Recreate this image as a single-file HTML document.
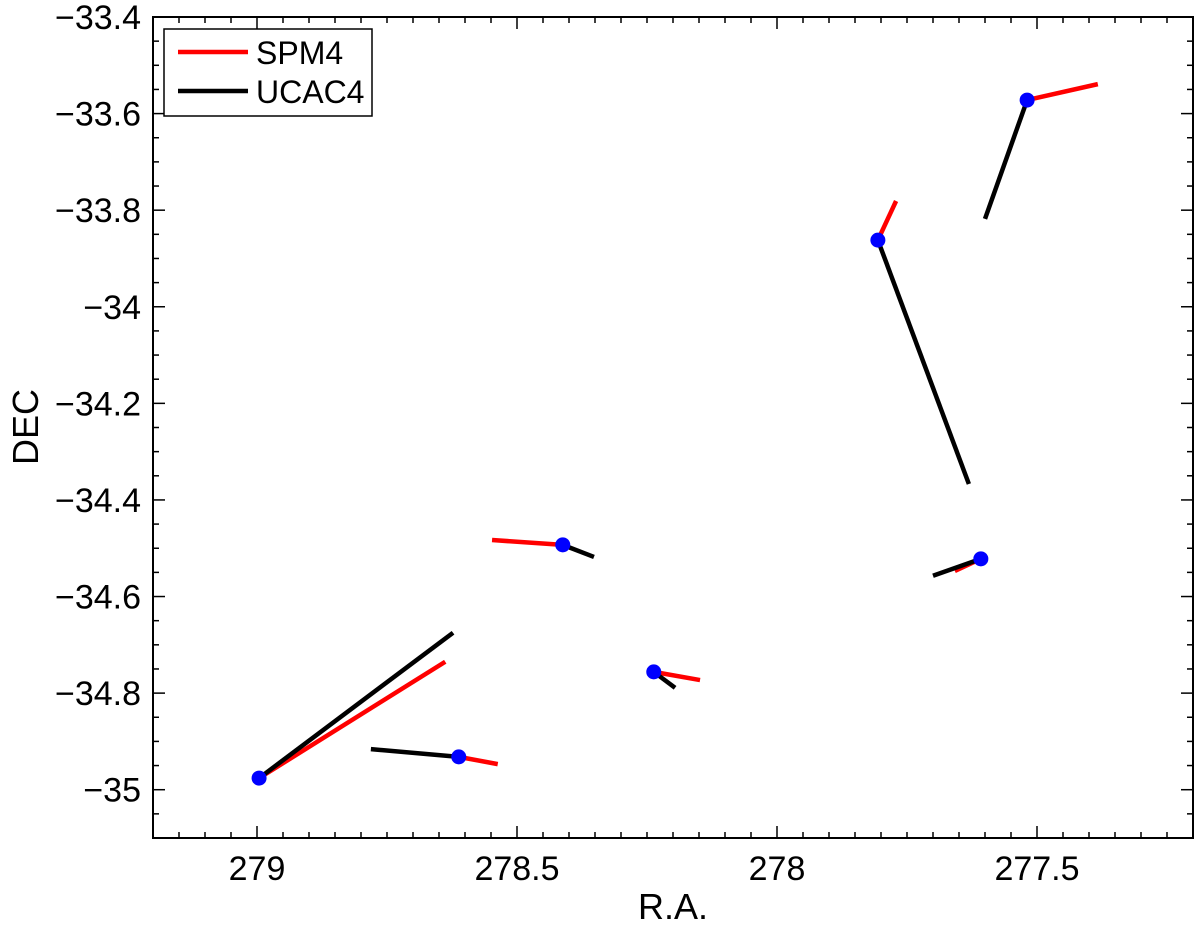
<!DOCTYPE html>
<html><head><meta charset="utf-8"><style>
html,body{margin:0;padding:0;background:#fff;}
svg text{font-family:"Liberation Sans",Arial,sans-serif;fill:#000;}
</style></head><body>
<svg id="chart" width="1200" height="920" xmlns="http://www.w3.org/2000/svg">
<g id="grid"></g>
<g id="marks"></g>
<g id="axes"></g>
</svg>
<script>
const starRA  = [278.996, 278.612, 278.412, 278.237, 277.806, 277.608, 277.519];
const starDEC = [-34.976, -34.932, -34.493, -34.756, -33.862, -34.522, -33.572];
const spmRA   = [278.638, 278.537, 278.548, 278.148, 277.771, 277.658, 277.383];
const spmDEC  = [-34.735, -34.947, -34.483, -34.773, -33.781, -34.547, -33.539];
const ucacRA  = [278.623, 278.781, 278.352, 278.196, 277.631, 277.700, 277.600];
const ucacDEC = [-34.675, -34.916, -34.518, -34.789, -34.367, -34.557, -33.818];
const xTicks = [279, 278.5, 278, 277.5];
const xTickLabels = ["279", "278.5", "278", "277.5"];
const yTicks = [-33.4, -33.6, -33.8, -34, -34.2, -34.4, -34.6, -34.8, -35];
const yTickLabels = ["\u221233.4","\u221233.6","\u221233.8","\u221234","\u221234.2","\u221234.4","\u221234.6","\u221234.8","\u221235"];

const L=153,R=1193,T=17,B=838;
const xMin=279.2,xMax=277.2,yMax=-33.4,yMin=-35.1;
function xs(v){return L+(xMin-v)/(xMin-xMax)*(R-L);}
function ys(v){return T+(yMax-v)/(yMax-yMin)*(B-T);}
const NS="http://www.w3.org/2000/svg";
function mk(tag,attrs,parent){const e=document.createElementNS(NS,tag);for(const k in attrs)e.setAttribute(k,attrs[k]);parent.appendChild(e);return e;}
const marks=document.getElementById('marks'),axes=document.getElementById('axes');

for(let i=0;i<starRA.length;i++){
  const s=mk('line',{x1:xs(starRA[i]),y1:ys(starDEC[i]),x2:xs(spmRA[i]),y2:ys(spmDEC[i]),stroke:'#ff0000','stroke-width':4.5},marks);
  
  
}
for(let i=0;i<starRA.length;i++){
  const u=mk('line',{x1:xs(starRA[i]),y1:ys(starDEC[i]),x2:xs(ucacRA[i]),y2:ys(ucacDEC[i]),stroke:'#000','stroke-width':4.5},marks);
  
  
}
for(let i=0;i<starRA.length;i++){
  const c=mk('circle',{cx:xs(starRA[i]),cy:ys(starDEC[i]),r:7.5,fill:'#0000ff'},marks);
  
  
}

const fr=mk('rect',{x:L,y:T,width:R-L,height:B-T,fill:'none',stroke:'#000','stroke-width':2},axes);



for(let k=0;k<=40;k++){
  const v=xMin-k*0.05;const x=xs(v);
  const major=Math.abs((v*2)-Math.round(v*2))<1e-6;
  const len=major?12:6;
  mk('line',{x1:x,y1:B,x2:x,y2:B-len,stroke:'#000','stroke-width':1.5},axes);
  mk('line',{x1:x,y1:T,x2:x,y2:T+len,stroke:'#000','stroke-width':1.5},axes);
}
for(let k=0;k<=34;k++){
  const v=yMax-k*0.05;const y=ys(v);
  const major=Math.abs((v*5)-Math.round(v*5))<1e-6;
  const len=major?12:6;
  mk('line',{x1:L,y1:y,x2:L+len,y2:y,stroke:'#000','stroke-width':1.5},axes);
  mk('line',{x1:R,y1:y,x2:R-len,y2:y,stroke:'#000','stroke-width':1.5},axes);
}
xTicks.forEach((v,i)=>{
  const t=mk('text',{x:xs(v),y:B+42,'font-size':34,'text-anchor':'middle'},axes);
  t.textContent=xTickLabels[i];
  
  
});
yTicks.forEach((v,i)=>{
  const t=mk('text',{x:L-12,y:ys(v)+12,'font-size':34,'text-anchor':'end'},axes);
  t.textContent=yTickLabels[i];
  
  
});
const xt=mk('text',{x:(L+R)/2,y:919,'font-size':36,'text-anchor':'middle'},axes);
xt.textContent='R.A.';


const yt=mk('text',{x:0,y:0,'font-size':36,'text-anchor':'middle',transform:'translate(38,427) rotate(-90)'},axes);
yt.textContent='DEC';



const lg=mk('g',{},axes);


mk('rect',{x:164,y:29,width:208,height:87,fill:'#fff',stroke:'#000','stroke-width':1.5},lg);
mk('line',{x1:178,y1:52,x2:248,y2:52,stroke:'#ff0000','stroke-width':4.5},lg);
mk('line',{x1:178,y1:91,x2:248,y2:91,stroke:'#000','stroke-width':4.5},lg);
const l1=mk('text',{x:256,y:64,'font-size':32},lg);l1.textContent='SPM4';


const l2=mk('text',{x:256,y:103,'font-size':32},lg);l2.textContent='UCAC4';


</script>
</body></html>
